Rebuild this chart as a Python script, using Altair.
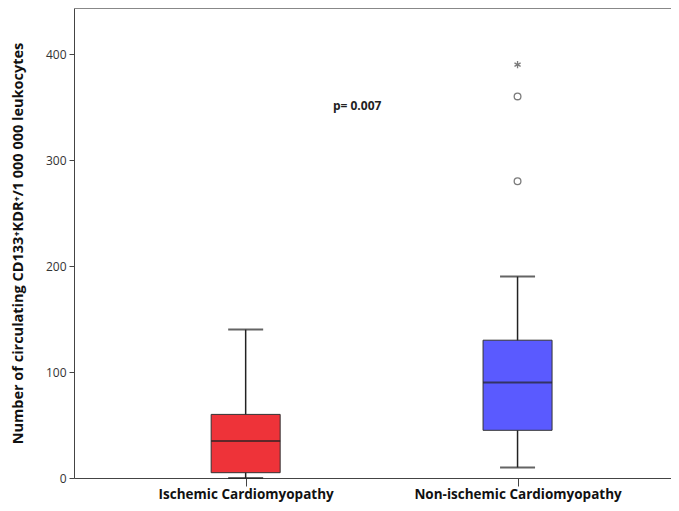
import altair as alt
import pandas as pd

categories = ["Ischemic Cardiomyopathy", "Non-ischemic Cardiomyopathy"]
whisker_low = [0, 10]
q1 = [5, 45]
median = [35, 90]
q3 = [60, 130]
whisker_high = [140, 190]
box_colors = ["#EE3339", "#5A5AFF"]

outlier_group = ["Non-ischemic Cardiomyopathy", "Non-ischemic Cardiomyopathy"]
outlier_values = [360, 280]
extreme_group = ["Non-ischemic Cardiomyopathy"]
extreme_values = [390]

p_text = "p= 0.007"
p_pos = (1.41, 351)

y_ticks = [0, 100, 200, 300, 400]

pos = {c: i + 1 for i, c in enumerate(categories)}
box_df = pd.DataFrame({
    "cat": categories, "pos": [pos[c] for c in categories],
    "lo": whisker_low, "q1": q1, "med": median, "q3": q3, "hi": whisker_high,
    "color": box_colors,
})
out_df = pd.DataFrame({"pos": [pos[c] for c in outlier_group], "v": outlier_values})
ext_df = pd.DataFrame({"pos": [pos[c] for c in extreme_group], "v": extreme_values})
p_df = pd.DataFrame({"x": [p_pos[0]], "y": [p_pos[1]], "t": [p_text]})

xscale = alt.Scale(domain=[0.387, 2.546], nice=False, zero=False)
yscale = alt.Scale(domain=[0, 443.4], nice=False)

label_expr = "datum.value == 1 ? '%s' : (datum.value == 2 ? '%s' : '')" % (categories[0], categories[1])

xaxis = alt.Axis(values=[1, 2], labelExpr=label_expr, title=None, grid=False,
                 domainColor="#444444", domainWidth=1, tickColor="#444444", tickSize=8,
                 labelFont="Open Sans", labelFontWeight="bold", labelFontSize=13.5,
                 labelColor="#111111", labelPadding=1, labelLimit=0)
yaxis = alt.Axis(values=y_ticks, grid=False, title="Number of circulating CD133⁺KDR⁺/1 000 000 leukocytes",
                 domainColor="#444444", tickColor="#444444", tickSize=5,
                 labelFont="Open Sans", labelFontSize=12, labelColor="#333333", labelPadding=3,
                 titleFont="Open Sans", titleFontWeight="bold", titleFontSize=14.5, titleColor="#111111",
                 titlePadding=20, titleLimit=0)

base = alt.Chart(box_df)

whisk = base.mark_rule(color="#222222", strokeWidth=1.5).encode(
    x=alt.X("pos:Q", scale=xscale, axis=xaxis),
    y=alt.Y("lo:Q", scale=yscale, axis=yaxis),
    y2="hi:Q",
)
caps_lo = base.mark_tick(color="#222222", size=35, thickness=2, orient="horizontal").encode(
    x=alt.X("pos:Q", scale=xscale), y=alt.Y("lo:Q", scale=yscale))
caps_hi = base.mark_tick(color="#222222", size=35, thickness=2, orient="horizontal").encode(
    x=alt.X("pos:Q", scale=xscale), y=alt.Y("hi:Q", scale=yscale))
box = base.mark_bar(size=69, stroke="#333333", strokeWidth=1).encode(
    x=alt.X("pos:Q", scale=xscale),
    y=alt.Y("q1:Q", scale=yscale),
    y2="q3:Q",
    color=alt.Color("color:N", scale=None),
)
med = base.mark_tick(color="#222222", size=69, thickness=2, orient="horizontal").encode(
    x=alt.X("pos:Q", scale=xscale), y=alt.Y("med:Q", scale=yscale))

outl = alt.Chart(out_df).mark_point(shape="circle", size=45, filled=False, color="#444444", strokeWidth=1.3).encode(
    x=alt.X("pos:Q", scale=xscale), y=alt.Y("v:Q", scale=yscale))
star_path = "M0,-1L0,1M-0.87,-0.5L0.87,0.5M-0.87,0.5L0.87,-0.5"
ext = alt.Chart(ext_df).mark_point(shape=star_path, size=50, filled=False, color="#444444", strokeWidth=1.3).encode(
    x=alt.X("pos:Q", scale=xscale), y=alt.Y("v:Q", scale=yscale))

ptext = alt.Chart(p_df).mark_text(font="Open Sans", fontSize=12, fontWeight="bold", color="#222222").encode(
    x=alt.X("x:Q", scale=xscale), y=alt.Y("y:Q", scale=yscale), text="t:N")

top_line = alt.Chart(p_df).mark_rule(color="#888888", strokeWidth=2).encode(y=alt.value(0))

chart = alt.layer(whisk, caps_lo, caps_hi, box, med, outl, ext, ptext, top_line).properties(
    width=597, height=470,
    autosize=alt.AutoSizeParams(type="none"),
    padding={"left": 66, "top": 0, "right": 0, "bottom": 25},
    view=alt.ViewBackground(stroke="transparent", strokeWidth=0),
).configure(background="white").configure_view(strokeWidth=0, stroke="transparent")

chart.save("out.html", embed_options={"renderer": "svg", "actions": False})
